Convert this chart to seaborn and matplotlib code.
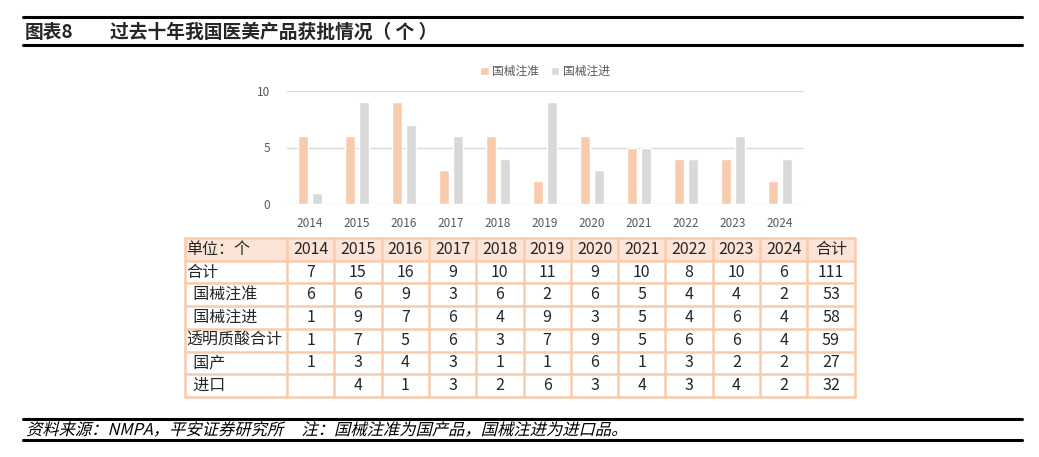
import pandas as pd
import seaborn as sns
import matplotlib.pyplot as plt
from matplotlib.patches import Rectangle, PathPatch
from matplotlib.textpath import TextPath
from matplotlib.font_manager import FontProperties
from matplotlib.transforms import Affine2D

years = ['2014', '2015', '2016', '2017', '2018', '2019', '2020', '2021', '2022', '2023', '2024']
zhun = [6, 6, 9, 3, 6, 2, 6, 5, 4, 4, 2]   # 国械注准
jin = [1, 9, 7, 6, 4, 9, 3, 5, 4, 6, 4]    # 国械注进
heji = [7, 15, 16, 9, 10, 11, 9, 10, 8, 10, 6]
tmzs = [1, 7, 5, 6, 3, 7, 9, 5, 6, 6, 4]   # 透明质酸合计
guochan = [1, 3, 4, 3, 1, 1, 6, 1, 3, 2, 2]
jinkou = ['', 4, 1, 3, 2, 6, 3, 4, 3, 4, 2]

row_names = ['合计', '  国械注准', '  国械注进', '透明质酸合计', '  国产', '  进口']
row_vals = [heji, zhun, jin, tmzs, guochan, jinkou]
row_tot = [111, 53, 58, 59, 27, 32]

sns.set_theme(style='white')
plt.rcParams['font.family'] = ['Noto Sans CJK SC', 'DejaVu Sans']

W, H = 1039, 457
fig = plt.figure(figsize=(W / 100, H / 100), dpi=100)

# 背景层，用像素坐标
bg = fig.add_axes([0, 0, 1, 1])
bg.set_xlim(0, W)
bg.set_ylim(H, 0)
bg.axis('off')

# 标题
bg.plot([23, 1022], [17, 17], color='black', lw=2.2)
bg.plot([23, 1022], [45, 45], color='black', lw=2.2)
bg.text(25, 32, '图表8', fontsize=13.5, fontweight='bold', va='center')
bg.text(110, 32, '过去十年我国医美产品获批情况（ 个 ）', fontsize=13.5, fontweight='bold', va='center')

# 柱状图
df = pd.DataFrame({'年份': years * 2,
                   '数量': zhun + jin,
                   '类型': ['国械注准'] * len(years) + ['国械注进'] * len(years)})
left, right, bot, top = 286.5, 803.5, 204, 91
ax = fig.add_axes([left / W, (H - bot) / H, (right - left) / W, (bot - top) / H])
sns.barplot(data=df, x='年份', y='数量', hue='类型', ax=ax,
            palette=['#F8CBAD', '#D9D9D9'], width=0.6, gap=0.3, saturation=1)
ax.set_ylim(0, 10)
ax.set_xlim(-0.5, len(years) - 0.5)
ax.set_yticks([0, 5, 10])
ax.yaxis.grid(True, color='#D9D9D9', lw=1)
ax.set_axisbelow(True)
for s in ax.spines.values():
    s.set_visible(False)
ax.set_xlabel('')
ax.set_ylabel('')
ax.tick_params(axis='both', labelsize=8.5, labelcolor='#595959', length=0)
ax.tick_params(axis='x', pad=9)
ax.tick_params(axis='y', pad=12)
ax.legend(loc='lower center', bbox_to_anchor=(0.5, 1.02), ncol=2, frameon=False,
          fontsize=8.5, handlelength=0.7, handleheight=0.7, handletextpad=0.3,
          columnspacing=1.0, labelcolor='#595959')

# 表格
edges = [185, 287] + [287 + 47.3 * (i + 1) for i in range(12)]
rows_y = [238 + 22.7 * i for i in range(8)]
line_c = '#F8CBAD'
bg.add_patch(Rectangle((edges[0], rows_y[0]), edges[-1] - edges[0], rows_y[1] - rows_y[0],
                       facecolor='#FCE4D6', edgecolor='none'))
for x in edges:
    bg.plot([x, x], [rows_y[0], rows_y[-1]], color=line_c, lw=1.8)
for y in rows_y:
    bg.plot([edges[0], edges[-1]], [y, y], color=line_c, lw=1.8)

header = ['单位：个'] + years + ['合计']
fs = 11.5
for j, t in enumerate(header):
    yc = (rows_y[0] + rows_y[1]) / 2
    if j == 0:
        bg.text(edges[0] + 1, yc, t, fontsize=fs, va='center', ha='left')
    else:
        bg.text((edges[j] + edges[j + 1]) / 2, yc, t, fontsize=fs, va='center', ha='center')
for i, name in enumerate(row_names):
    yc = (rows_y[i + 1] + rows_y[i + 2]) / 2
    bg.text(edges[0] + 1, yc, name, fontsize=fs, va='center', ha='left')
    for j, v in enumerate(row_vals[i] + [row_tot[i]]):
        bg.text((edges[j + 1] + edges[j + 2]) / 2, yc, str(v), fontsize=fs,
                va='center', ha='center')

# 资料来源（斜体，用路径倾斜）
bg.plot([23, 1022], [419, 419], color='black', lw=2.2)
bg.plot([23, 1022], [440, 440], color='black', lw=2.2)
src = '资料来源：NMPA，平安证券研究所     注：国械注准为国产品，国械注进为进口品。'
fp = FontProperties(family=['Noto Sans CJK SC', 'DejaVu Sans'], size=16.3)
tp = TextPath((0, 0), src, prop=fp)
tr = Affine2D().skew_deg(14, 0).scale(1, -1).translate(26, 435) + bg.transData
bg.add_patch(PathPatch(tp, transform=tr, facecolor='black', edgecolor='none'))

fig.savefig('out.png', dpi=100)
